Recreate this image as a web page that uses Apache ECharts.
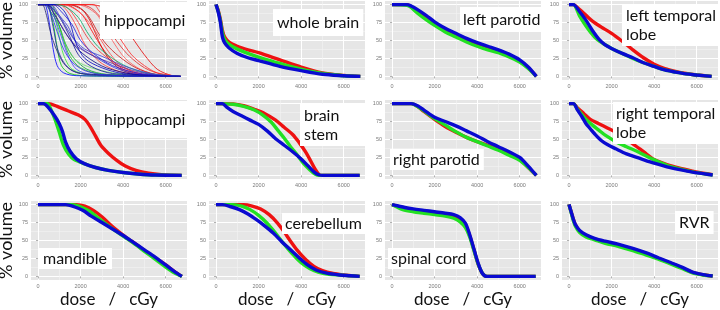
<!DOCTYPE html>
<html>
<head>
<meta charset="utf-8">
<script src="https://cdn.jsdelivr.net/npm/echarts@6/dist/echarts.min.js"></script>
<style>
  html, body { margin: 0; padding: 0; background: #fff; }
  #chart { width: 720px; height: 310px; }
</style>
</head>
<body>
<div id="chart"></div>
<script>
const doseTicks = [0, 2000, 4000, 6000]
const doseMinor = [1000, 3000, 5000]
const volumeTicks = [0, 25, 50, 75, 100]
const volumeMinor = [12.5, 37.5, 62.5, 87.5]
const panelNames = ["hippocampi", "whole brain", "left parotid", "left temporal\nlobe",
  "hippocampi", "brain\nstem", "right parotid", "right temporal\nlobe",
  "mandible", "cerebellum", "spinal cord", "RVR"]

// panel 1: single patients, thin lines
const hippoThinBlue = [
  [[0,100],[300,100],[500,80],[700,40],[900,15],[1200,5],[1800,1],[6700,0]],
  [[0,100],[400,100],[700,70],[900,40],[1200,20],[1600,8],[2500,2],[6700,0]],
  [[0,100],[500,100],[800,80],[1100,55],[1400,30],[1800,10],[2500,3],[6700,0]],
  [[0,100],[400,100],[800,85],[1300,60],[1800,40],[2400,25],[3200,12],[4500,3],[6700,0]],
  [[0,100],[600,100],[1000,85],[1500,60],[2000,40],[2800,25],[3600,12],[4500,4],[6000,0],[6700,0]],
  [[0,100],[300,100],[700,90],[1200,65],[1700,45],[2500,30],[3500,18],[4500,8],[5500,2],[6700,0]],
  [[0,100],[700,100],[1100,90],[1600,72],[2000,50],[2600,32],[3500,15],[4800,4],[6700,0]],
  [[0,100],[200,100],[400,85],[600,60],[900,35],[1300,15],[2000,4],[6700,0]],
  [[0,100],[500,100],[900,88],[1400,70],[1700,52],[2200,38],[3000,28],[4000,15],[5300,4],[6700,0]],
  [[0,100],[800,100],[1200,92],[1500,75],[1800,45],[2200,25],[3000,12],[4000,4],[6700,0]],
  [[0,100],[350,100],[600,88],[900,62],[1200,38],[1600,20],[2200,8],[3200,2],[6700,0]],
  [[0,100],[450,100],[750,92],[1100,78],[1500,55],[1900,30],[2500,14],[3500,4],[6700,0]]
]
const hippoThinGreen = [
  [[0,100],[400,100],[700,75],[900,40],[1100,15],[1500,4],[2500,0.5],[6700,0]],
  [[0,100],[500,100],[800,80],[1000,55],[1200,30],[1600,10],[2500,2],[6700,0]],
  [[0,100],[300,100],[600,90],[1000,70],[1300,45],[1700,25],[2300,10],[3200,3],[6700,0]],
  [[0,100],[900,100],[1400,95],[1900,82],[2300,62],[2800,42],[3500,25],[4300,12],[5200,4],[6700,0]],
  [[0,100],[500,100],[800,85],[1100,60],[1400,38],[1800,22],[2500,12],[3500,5],[5000,1],[6700,0]],
  [[0,100],[600,100],[900,80],[1200,50],[1500,28],[2000,12],[3000,3],[6700,0]]
]
const hippoThinRed = [
  [[0,100],[1300,100],[1700,95],[2100,85],[2500,65],[2900,45],[3400,25],[4000,10],[4800,3],[6000,0],[6700,0]],
  [[0,100],[1100,100],[1500,92],[1900,75],[2300,55],[2700,40],[3300,25],[4000,12],[5000,3],[6500,0]],
  [[0,100],[1500,100],[2000,95],[2400,80],[2700,60],[3000,40],[3400,22],[4000,8],[5000,1],[6500,0]],
  [[0,100],[1800,100],[2300,96],[2800,85],[3200,65],[3600,45],[4100,25],[4800,10],[5600,2],[6700,0]],
  [[0,100],[2000,100],[2500,95],[3000,80],[3400,62],[3800,45],[4300,28],[5000,12],[5800,3],[6700,0]],
  [[0,100],[1000,100],[1400,90],[1800,70],[2100,50],[2500,32],[3000,18],[3800,7],[5000,1],[6700,0]],
  [[0,100],[2400,100],[2900,98],[3300,92],[3800,80],[4400,55],[5000,30],[5600,10],[6300,1],[6700,0]],
  [[0,100],[1200,100],[1600,96],[2000,88],[2400,75],[2800,58],[3300,35],[3800,18],[4500,6],[5500,0],[6700,0]],
  [[0,100],[1400,100],[1800,97],[2200,90],[2500,78],[2800,62],[3200,45],[3800,28],[4600,12],[5500,3],[6700,0]],
  [[0,100],[2600,100],[2900,90],[3300,75],[3800,55],[4400,30],[5000,15],[5600,5],[6700,0]]
]

const wholeBrainRed = [[0,100],[100,92],[200,80],[300,64],[400,55],[600,48],[1000,42],[1500,37],[2000,33],[3000,23],[4000,13],[5000,5],[6000,1.5],[6780,0]]
const wholeBrainGreen = [[0,100],[100,91],[200,78],[300,61],[400,52],[600,45],[1000,38],[1500,32],[2000,27],[3000,18],[4000,10],[5000,4],[6000,1],[6780,0]]
const wholeBrainBlue = [[0,100],[100,90],[200,76],[300,55],[400,47],[600,40],[1000,32],[1500,26],[2000,22],[3000,14],[4000,8],[5000,3],[6000,1],[6780,0]]

const leftParotidRed = [[0,100],[700,100],[900,97],[1200,90],[1600,82],[2000,74],[2500,65],[3000,58],[3500,51],[4000,45],[4500,40],[5000,35],[5500,29],[6000,21],[6400,12],[6780,0]]
const leftParotidGreen = [[0,100],[700,99],[900,96],[1200,88],[1600,79],[2000,71],[2500,62],[3000,55],[3500,48],[4000,42],[4500,37],[5000,33],[5500,27],[6000,20],[6400,11],[6780,0]]
const leftParotidBlue = [[0,100],[700,100],[900,98],[1200,93],[1600,85],[2000,76],[2500,67],[3000,60],[3500,53],[4000,47],[4500,42],[5000,37],[5500,31],[6000,23],[6400,13],[6780,0]]

const leftTemporalRed = [[0,100],[200,100],[500,93],[800,85],[1100,77],[1500,69],[2000,60],[2500,49],[3000,37],[3500,26],[4000,17],[4500,11],[5000,7],[5500,4],[6000,2],[6700,0]]
const leftTemporalGreen = [[0,100],[200,100],[500,84],[800,70],[1000,62],[1300,52],[1700,44],[2000,39],[2500,32],[3000,25],[3500,19],[4000,14],[4500,9],[5000,6],[5500,3.5],[6000,2],[6700,0]]
const leftTemporalBlue = [[0,100],[200,100],[500,90],[800,78],[1100,64],[1400,52],[1700,44],[2000,39],[2500,32],[3000,26],[3500,19],[4000,14],[4500,9],[5000,6],[5500,3.5],[6000,2],[6700,0]]

const hippoRed = [[0,100],[500,100],[900,96],[1400,90],[1900,84],[2200,78],[2450,68],[2700,55],[2950,42],[3300,31],[3700,21],[4100,13],[4600,7],[5200,3],[5800,1],[6750,0]]
const hippoGreen = [[0,100],[450,100],[600,92],[800,78],[1000,60],[1200,42],[1450,29],[1700,22],[2200,16],[2700,11],[3300,7],[4000,4],[4700,2],[5500,0.5],[6750,0]]
const hippoBlue = [[0,100],[250,100],[500,94],[800,82],[1000,72],[1150,61],[1300,46],[1500,34],[1800,23],[2200,16],[2700,11],[3300,7],[4000,4],[4700,2],[5500,0.5],[6750,0]]

const brainStemRed = [[0,100],[800,99.5],[1300,97],[1800,92],[2300,86],[2800,77],[3200,67],[3600,57],[3900,46],[4200,33],[4450,20],[4650,9],[4850,1],[5000,0],[6750,0]]
const brainStemGreen = [[0,100],[800,99],[1300,96],[1800,91],[2200,84],[2600,74],[2900,63],[3200,52],[3500,40],[3800,29],[4100,17],[4400,8],[4650,2],[4850,0],[6750,0]]
const brainStemBlue = [[0,100],[300,100],[500,95],[800,89],[1200,83],[1600,77],[2000,71],[2400,62],[2800,51],[3200,42],[3600,33],[4000,23],[4300,14],[4600,5],[4850,0.5],[5000,0],[6750,0]]

const rightParotidRed = [[0,100],[900,100],[1200,96],[1500,89],[2000,78],[2500,68],[3000,60],[3500,53],[4000,47],[4500,42],[5000,37],[5500,30],[6000,22],[6400,11],[6780,0]]
const rightParotidGreen = [[0,100],[900,100],[1200,96],[1500,90],[2000,79],[2500,70],[3000,61],[3500,53],[4000,47],[4500,41],[5000,35],[5500,28],[6000,21],[6400,11],[6780,0]]
const rightParotidBlue = [[0,100],[900,100],[1200,97],[1500,91],[2000,81],[2500,75],[3000,69],[3500,62],[4000,55],[4500,47],[5000,40],[5500,33],[6000,25],[6400,13],[6780,0]]

const rightTemporalRed = [[0,100],[200,100],[400,94],[700,86],[1000,78],[1400,72],[1800,66],[2200,60],[2600,52],[3000,44],[3500,33],[4000,22],[4600,15],[5200,10],[5800,6],[6300,3],[6750,1]]
const rightTemporalGreen = [[0,100],[200,100],[400,92],[600,85],[800,78],[1100,70],[1400,63],[1700,56],[2200,47],[2700,40],[3300,32],[3900,23],[4600,14],[5200,9],[5800,5],[6300,2.5],[6750,0.5]]
const rightTemporalBlue = [[0,100],[200,100],[400,91],[600,82],[800,72],[1000,65],[1200,58],[1500,49],[1800,43],[2200,37],[2700,30],[3300,24],[4000,17],[4600,12],[5200,8],[5800,4.5],[6300,2.5],[6750,0.5]]

const mandibleRed = [[0,100],[1800,100],[2200,98],[2600,92],[3000,83],[3400,72],[3800,62],[4200,53],[4600,45],[5000,36],[5500,26],[6000,16],[6400,7],[6760,0]]
const mandibleGreen = [[0,100],[1600,100],[2000,97],[2400,91],[2800,82],[3200,73],[3600,64],[4000,56],[4500,46],[5000,35],[5500,24],[6000,13],[6400,5],[6760,0]]
const mandibleBlue = [[0,100],[1300,100],[1700,97],[2100,92],[2500,84],[3000,75],[3500,66],[4000,57],[4500,47],[5000,37],[5500,27],[6000,16],[6400,7],[6760,0]]

const cerebellumRed = [[0,100],[1300,100],[1700,98],[2100,94],[2500,86],[2900,74],[3200,62],[3500,49],[3800,37],[4200,24],[4600,14],[5000,8],[5500,4],[6000,2],[6400,1],[6750,0]]
const cerebellumGreen = [[0,100],[800,100],[1200,98],[1600,93],[2000,85],[2400,74],[2800,60],[3200,45],[3600,31],[4000,19],[4400,11],[4800,6],[5300,3],[5800,2],[6300,1],[6750,0]]
const cerebellumBlue = [[0,100],[300,100],[700,97],[1100,93],[1500,87],[1900,79],[2300,70],[2700,60],[3100,48],[3500,37],[3900,26],[4300,16],[4700,9],[5200,4.5],[5800,2],[6300,1],[6750,0]]

const spinalCordRed = [[0,100],[300,97],[600,95],[1000,92],[1500,90],[2000,88],[2500,86],[2900,84],[3200,79],[3450,71],[3650,57],[3850,37],[4050,17],[4250,4],[4450,0],[6750,0]]
const spinalCordGreen = [[0,100],[200,97],[500,93],[1000,90],[1500,88],[2000,86],[2500,84],[2900,81],[3200,76],[3450,68],[3650,55],[3850,36],[4050,17],[4250,4],[4450,0],[6750,0]]
const spinalCordBlue = [[0,100],[300,98],[600,96],[1000,94],[1500,92],[2000,90],[2500,88],[2900,86],[3200,82],[3450,74],[3650,58],[3850,38],[4050,18],[4250,4],[4450,0],[6750,0]]

const rvrRed = [[0,100],[100,90],[200,80],[300,72],[500,63],[800,57],[1200,52],[1700,48],[2300,44],[3000,38],[3600,32],[4200,25],[4800,18],[5300,12],[5800,5.5],[6300,2.3],[6750,0.5]]
const rvrGreen = [[0,100],[100,89],[200,78],[300,70],[500,61],[800,55],[1200,51],[1700,46],[2300,42],[3000,36],[3600,30],[4200,24],[4800,17],[5300,11],[5800,5],[6300,2],[6750,0.5]]
const rvrBlue = [[0,100],[100,90],[200,80],[300,72],[500,64],[800,58],[1200,53],[1700,49],[2300,45],[3000,39],[3600,33],[4200,26],[4800,19],[5300,13],[5800,6],[6300,2.5],[6750,0.5]]

// panels 2..12, in reading order: [red, green, blue]
const meanCurves = [
  null,
  [wholeBrainRed, wholeBrainGreen, wholeBrainBlue],
  [leftParotidRed, leftParotidGreen, leftParotidBlue],
  [leftTemporalRed, leftTemporalGreen, leftTemporalBlue],
  [hippoRed, hippoGreen, hippoBlue],
  [brainStemRed, brainStemGreen, brainStemBlue],
  [rightParotidRed, rightParotidGreen, rightParotidBlue],
  [rightTemporalRed, rightTemporalGreen, rightTemporalBlue],
  [mandibleRed, mandibleGreen, mandibleBlue],
  [cerebellumRed, cerebellumGreen, cerebellumBlue],
  [spinalCordRed, spinalCordGreen, spinalCordBlue],
  [rvrRed, rvrGreen, rvrBlue]
]

const chart = echarts.init(document.getElementById("chart"))

const colLeft = [31, 209, 385, 562]
const rowTop = [1, 100, 201]
const thick = ["#ee1111", "#22e022", "#0a0ad0"]
const thinBlue = ["#0000ff", "#2222b0", "#4040ff", "#000080", "#3333cc", "#5a2ca0", "#1515e0", "#202070", "#3f3fd0", "#0000c0", "#2a2ae8", "#10109a"]
const thinGreen = ["#00cc00", "#33ee33", "#009933", "#00aa66", "#66dd66", "#22bb22"]
const thinRed = ["#ff0000", "#ee3333", "#cc0000", "#ff5555", "#dd2222", "#ff3333", "#e60000", "#ff4444", "#cc1111", "#ff2222"]

// label boxes: [left, top, padding]
const labelBoxes = [
  [100, 2, [9, 8, 9, 4]],
  [273, 9, [4, 4, 4, 4]],
  [460, 7, [3, 4, 3, 3]],
  [622, 4, [2, 6, 2, 4]],
  [100, 101, [9, 8, 9, 4]],
  [300, 104, [2, 28, 2, 4]],
  [390, 149, [1, 4, 1, 3]],
  [613, 102, [2, 6, 2, 3]],
  [39, 248, [1, 5, 1, 4]],
  [282, 213, [1, 4, 1, 3]],
  [388, 248, [1, 4, 1, 3]],
  [675, 211, [2, 4, 2, 4]]
]

const grids = []
const xAxes = []
const yAxes = []
const series = []
const titles = []
const tickLabel = { fontSize: 5.5, color: "#7a7a7a", fontFamily: "Liberation Sans", formatter: v => String(v) }

for (let i = 0; i < 12; i++) {
  const r = Math.floor(i / 4)
  const c = i % 4
  grids.push({
    left: colLeft[c], top: rowTop[r], width: 156, height: 79,
    show: true, backgroundColor: "#e6e6e6", borderWidth: 0,
    outerBoundsMode: "none"
  })
  xAxes.push({
    type: "value", gridIndex: i, min: -330, max: 7000,
    axisLine: { show: false },
    axisTick: { show: true, length: 2, customValues: doseTicks, lineStyle: { color: "#7a7a7a", width: 0.6 } },
    axisLabel: Object.assign({ customValues: doseTicks, margin: 3 }, tickLabel),
    splitLine: { show: true, lineStyle: { color: "#ffffff", width: 1 } },
    name: r === 2 ? "dose   /   cGy" : "",
    nameLocation: "middle", nameGap: 11,
    nameTextStyle: { fontFamily: "Lato", fontSize: 17, color: "#111" }
  })
  xAxes.push({
    type: "value", gridIndex: i, min: -330, max: 7000, position: "top",
    axisLine: { show: false },
    axisTick: { show: false, customValues: doseMinor },
    axisLabel: { show: false },
    splitLine: { show: true, lineStyle: { color: "#f3f3f3", width: 0.6 } }
  })
  yAxes.push({
    type: "value", gridIndex: i, min: -5, max: 105,
    axisLine: { show: false },
    axisTick: { show: true, length: 2, customValues: volumeTicks, lineStyle: { color: "#7a7a7a", width: 0.6 } },
    axisLabel: Object.assign({ customValues: volumeTicks, margin: 3 }, tickLabel),
    splitLine: { show: true, lineStyle: { color: "#ffffff", width: 1 } },
    name: c === 0 ? "% volume" : "",
    nameLocation: "middle", nameGap: 13,
    nameTextStyle: { fontFamily: "Lato", fontSize: 18, color: "#111" }
  })
  yAxes.push({
    type: "value", gridIndex: i, min: -5, max: 105, position: "right",
    axisLine: { show: false },
    axisTick: { show: false, customValues: volumeMinor },
    axisLabel: { show: false },
    splitLine: { show: true, lineStyle: { color: "#f3f3f3", width: 0.6 } }
  })

  const b = labelBoxes[i]
  titles.push({
    text: panelNames[i], left: b[0], top: b[1], padding: b[2],
    backgroundColor: "#ffffff", itemGap: 0,
    textStyle: { fontFamily: "Lato", fontSize: 16, fontWeight: "normal", color: "#111", lineHeight: 19 }
  })

  const addLine = (data, color, width, z) => {
    series.push({
      type: "line", xAxisIndex: 2 * i, yAxisIndex: 2 * i, data: data,
      showSymbol: false, smooth: 0.3, clip: true, silent: true, z: z,
      lineStyle: { color: color, width: width }
    })
  }

  if (i === 0) {
    hippoThinRed.forEach((d, k) => addLine(d, thinRed[k], 0.8, 2))
    hippoThinGreen.forEach((d, k) => addLine(d, thinGreen[k], 0.8, 2))
    hippoThinBlue.forEach((d, k) => addLine(d, thinBlue[k], 0.8, 2))
  } else {
    meanCurves[i].forEach((d, k) => addLine(d, thick[k], 3.4, 2 + k))
  }
}

chart.setOption({
  animation: false,
  backgroundColor: "#ffffff",
  title: titles,
  grid: grids,
  xAxis: xAxes,
  yAxis: yAxes,
  series: series
})
</script>
</body>
</html>
